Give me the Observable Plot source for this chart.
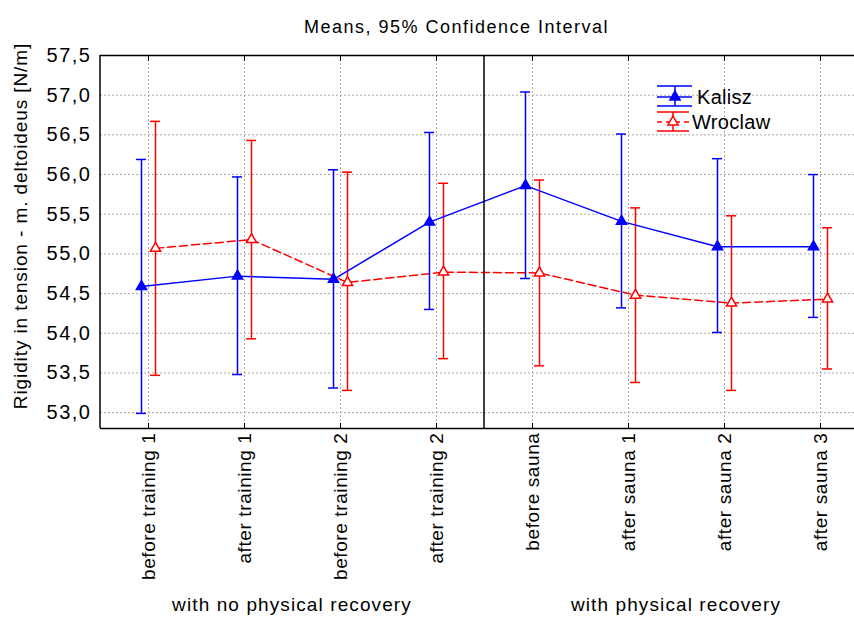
<!DOCTYPE html>
<html><head><meta charset="utf-8">
<script src="https://cdn.jsdelivr.net/npm/d3@7"></script>
<script src="https://cdn.jsdelivr.net/npm/@observablehq/plot@0.6"></script>
<style>
body{margin:0;background:#fff;overflow:hidden}
svg text{font-family:"Liberation Sans",Arial,sans-serif}
.ls-title{letter-spacing:1.5px}
</style>
</head><body><div id="chart"></div><script>
const titleText = "Means, 95% Confidence Interval";
const yLabel = "Rigidity in tension - m. deltoideus [N/m]";
const categories = ["before training 1","after training 1","before training 2","after training 2","before sauna","after sauna 1","after sauna 2","after sauna 3"];
const groupLabels = ["with no physical recovery","with physical recovery"];
const groupSizes = [4, 4];
const series = ["Kalisz","Wroclaw"];
const kaliszMean = [54.59, 54.72, 54.68, 55.40, 55.86, 55.41, 55.09, 55.09];
const kaliszLow  = [52.99, 53.48, 53.31, 54.30, 54.69, 54.32, 54.01, 54.20];
const kaliszHigh = [56.19, 55.97, 56.06, 56.53, 57.04, 56.51, 56.20, 56.00];
const wroclawMean = [55.07, 55.18, 54.64, 54.77, 54.76, 54.48, 54.38, 54.43];
const wroclawLow  = [53.47, 53.93, 53.28, 53.68, 53.59, 53.38, 53.28, 53.55];
const wroclawHigh = [56.67, 56.43, 56.03, 55.89, 55.93, 55.58, 55.48, 55.33];
const yTicks = [53.0, 53.5, 54.0, 54.5, 55.0, 55.5, 56.0, 56.5, 57.0, 57.5];
const yDomain = [52.8, 57.5];

const blue = "#0000ff", red = "#ff0000";
const kal = categories.map((c,i)=>({cat:c, mean:kaliszMean[i], low:kaliszLow[i], high:kaliszHigh[i]}));
const wro = categories.map((c,i)=>({cat:c, mean:wroclawMean[i], low:wroclawLow[i], high:wroclawHigh[i]}));
const fmt = d => d.toFixed(1).replace(".", ",");
const gridStyle = {stroke:"#a8a8a8", strokeOpacity:1, strokeDasharray:"2,2", strokeWidth:1};
const symR = 3.8;

function seriesMarks(d, color, dx, dashed, filled){
  return [
    Plot.ruleX(d, {x:"cat", y1:"low", y2:"high", dx, stroke:color, strokeWidth:1.5}),
    Plot.tickY(d, {x:"cat", y:"low", dx, insetLeft:43, insetRight:43, stroke:color, strokeWidth:1.5}),
    Plot.tickY(d, {x:"cat", y:"high", dx, insetLeft:43, insetRight:43, stroke:color, strokeWidth:1.5}),
    Plot.line(d, {x:"cat", y:"mean", dx, stroke:color, strokeWidth:1.5, strokeDasharray: dashed ? "8,4" : null}),
    Plot.dot(d, {x:"cat", y:"mean", dx, symbol:"triangle", r:symR, fill: filled ? color : "#fff", stroke:color, strokeWidth:1.5})
  ];
}

const plot = Plot.plot({
  width: 854, height: 617,
  marginLeft: 100, marginRight: 0, marginTop: 55, marginBottom: 189,
  style: {fontFamily:"Liberation Sans, Arial, sans-serif", fontSize:"19px", color:"#000", background:"#fff", overflow:"visible"},
  x: {type:"band", domain: categories, range:[100, 868], padding:0, label:null},
  y: {domain: yDomain, label:null},
  marks: [
    Plot.gridY(yTicks, gridStyle),
    Plot.gridX(gridStyle),
    Plot.axisY(yTicks, {tickSize:0, tickPadding:9, tickFormat: fmt, fontSize:20, label:null, className:"yax"}),
    Plot.axisX({tickSize:-5, tickPadding:9, tickRotate:-90, fontSize:19, label:null, stroke:"#000", className:"xax"}),
    Plot.axisX({anchor:"top", tickSize:-5, tickFormat: () => "", label:null, stroke:"#000"}),
    Plot.ruleY([yDomain[0], yDomain[1]], {stroke:"#000", strokeWidth:1.5}),
    ...seriesMarks(wro, red, 7, true, false),
    ...seriesMarks(kal, blue, -7, false, true),
    Plot.text([titleText], {text: d => d, frameAnchor:"top", dy:-35, dx:-21, fontSize:18, className:"ttl"}),
    Plot.text([yLabel], {text: d => d, frameAnchor:"left", textAnchor:"middle", rotate:-90, dx:-80, dy:-16, fontSize:19, className:"ylab"})
  ]
});
document.getElementById("chart").appendChild(plot);

const svg = d3.select(plot);
// letter spacing to match the reference's wide text rendering
svg.selectAll(".ttl text").style("letter-spacing","1.5px");
svg.selectAll(".yax text").style("letter-spacing","1.5px");
svg.selectAll(".xax text").style("letter-spacing","0.6px");
svg.selectAll(".ylab text").style("letter-spacing","0.9px");

// Post-render: frame edge, group divider, group labels, legend (derived from Plot's scales)
const xs = plot.scale("x"), ys = plot.scale("y");
const [r0, r1] = xs.range;
const step = (r1 - r0) / categories.length;
const yTop = Math.min(...ys.range), yBot = Math.max(...ys.range);
const g = svg.append("g");
g.append("line").attr("x1", r0).attr("x2", r0).attr("y1", yTop).attr("y2", yBot).attr("stroke","#000").attr("stroke-width",1.5);
let acc = 0;
groupSizes.forEach((n, k) => {
  if (k > 0) {
    const bx = r0 + acc*step;
    g.append("line").attr("x1", bx).attr("x2", bx).attr("y1", yTop).attr("y2", yBot).attr("stroke","#000").attr("stroke-width",1.5);
  }
  const cx = r0 + (acc + n/2)*step;
  g.append("text").attr("x", cx).attr("y", 611).attr("text-anchor","middle").attr("font-size", 19).style("letter-spacing","1.1px").attr("fill","#000").text(groupLabels[k]);
  acc += n;
});

// legend
const tri = d3.symbol(d3.symbolTriangle, symR*symR*Math.PI)();
const legendItems = [
  {name: series[0], color: blue, x0:657, x1:692, cx:675, yT:86, yM:97, yB:106, dashed:false, filled:true, tx:697},
  {name: series[1], color: red, x0:657, x1:689, cx:673, yT:112, yM:122, yB:131, dashed:true, filled:false, tx:692}
];
legendItems.forEach(it => {
  const lg = g.append("g");
  [it.yT, it.yB].forEach(yy => lg.append("line").attr("x1", it.x0).attr("x2", it.x1).attr("y1", yy).attr("y2", yy).attr("stroke", it.color).attr("stroke-width",1.5));
  lg.append("line").attr("x1", it.cx).attr("x2", it.cx).attr("y1", it.yT).attr("y2", it.yB).attr("stroke", it.color).attr("stroke-width",1.5);
  lg.append("line").attr("x1", it.x0).attr("x2", it.x1).attr("y1", it.yM).attr("y2", it.yM).attr("stroke", it.color).attr("stroke-width",1.5).attr("stroke-dasharray", it.dashed ? "5,4" : null);
  lg.append("path").attr("d", tri).attr("transform", `translate(${it.cx},${it.yM})`).attr("fill", it.filled ? it.color : "#fff").attr("stroke", it.color).attr("stroke-width",1.5);
  lg.append("text").attr("x", it.tx).attr("y", it.yM).attr("dy","0.35em").attr("text-anchor","start").attr("font-size", 20).style("letter-spacing","0.3px").attr("fill","#000").text(it.name);
});
</script></body></html>
